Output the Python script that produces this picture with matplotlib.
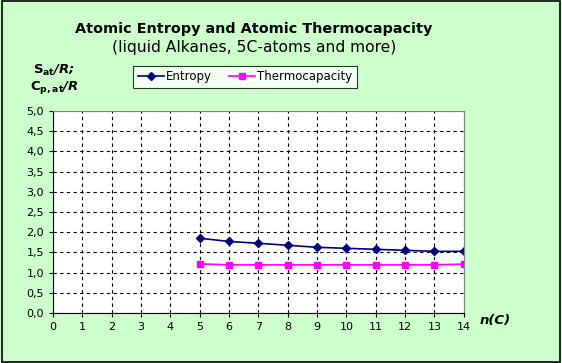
import matplotlib.pyplot as plt
from matplotlib.ticker import FuncFormatter

# data
n_c = [5, 6, 7, 8, 9, 10, 11, 12, 13, 14]
entropy = [1.85, 1.77, 1.725, 1.675, 1.625, 1.60, 1.575, 1.55, 1.525, 1.525]
thermocap = [1.215, 1.19, 1.19, 1.19, 1.19, 1.19, 1.19, 1.19, 1.19, 1.21]

plt.rcParams['font.family'] = ['DejaVu Sans']

fig = plt.figure(figsize=(5.62, 3.63), dpi=100, facecolor='#CCFFCC')
fig.patches.append(plt.Rectangle((0.003, 0.004), 0.994, 0.992, transform=fig.transFigure,
                                 fill=False, edgecolor='black', linewidth=1.2))

ax = fig.add_axes([0.0943, 0.138, 0.731, 0.556])
ax.set_facecolor('white')

ax.plot(n_c, entropy, color='#000080', marker='D', markersize=4, linewidth=1.2, label='Entropy')
ax.plot(n_c, thermocap, color='#FF00FF', marker='s', markersize=5, linewidth=1.2, label='Thermocapacity')

ax.set_xlim(0, 14)
ax.set_ylim(0, 5)
ax.set_xticks(range(0, 15))
ax.set_yticks([i * 0.5 for i in range(11)])
ax.yaxis.set_major_formatter(FuncFormatter(lambda v, p: ('%.1f' % v).replace('.', ',')))
ax.tick_params(labelsize=8, length=3, width=0.8, colors='black')
ax.grid(True, color='black', linestyle=(0, (3, 3)), linewidth=0.8)

for s in ['top', 'right']:
    ax.spines[s].set_color('#808080')
for s in ['left', 'bottom']:
    ax.spines[s].set_color('black')

fig.text(0.452, 0.92, 'Atomic Entropy and Atomic Thermocapacity', ha='center', va='center',
         fontsize=10.4, fontweight='bold')
fig.text(0.452, 0.868, '(liquid Alkanes, 5C-atoms and more)', ha='center', va='center', fontsize=11.2)

fig.text(0.096, 0.805, r'$\mathbf{S}_{\mathbf{at}}$' + '/R;', ha='center', va='center',
         fontsize=9.5, fontweight='bold', style='italic')
fig.text(0.096, 0.758, r'$\mathbf{C}_{\mathbf{p,at}}$' + '/R', ha='center', va='center',
         fontsize=9.5, fontweight='bold', style='italic')
fig.text(0.881, 0.117, 'n(C)', ha='center', va='center', fontsize=9.5, fontweight='bold',
         style='italic')

leg = fig.legend(loc='center', bbox_to_anchor=(0.436, 0.788), ncol=2, fontsize=8.5, frameon=True,
                 fancybox=False, edgecolor='black', borderpad=0.4, handlelength=2.2,
                 columnspacing=1.4, handletextpad=0.2)
leg.get_frame().set_linewidth(0.8)

fig.savefig('out.png', dpi=100, facecolor=fig.get_facecolor())
